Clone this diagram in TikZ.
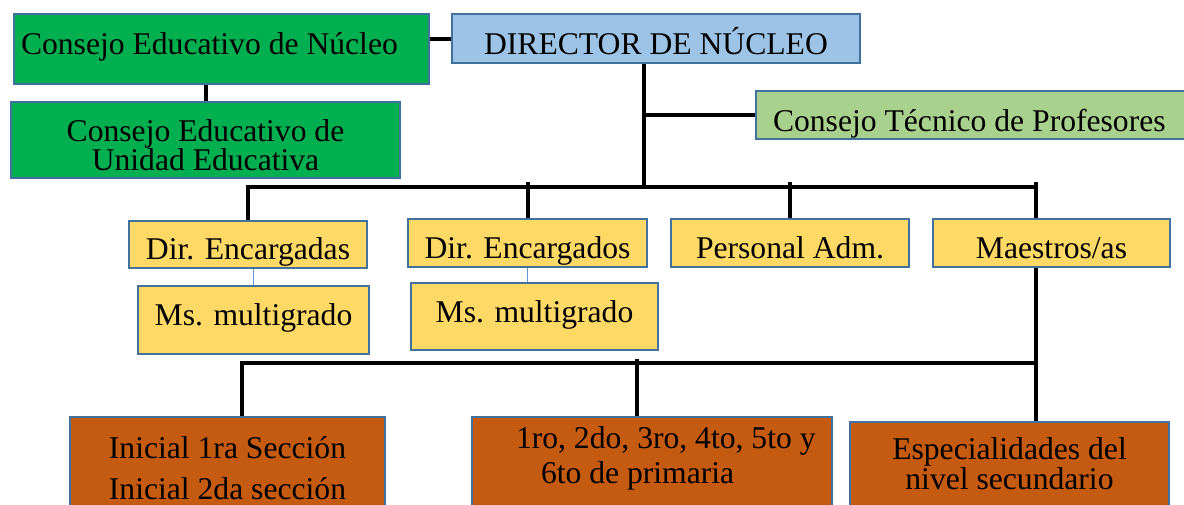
\documentclass[tikz,border=0pt]{standalone}
\usepackage{fontspec}
\setmainfont{Liberation Serif}
\usetikzlibrary{positioning,calc}

\definecolor{borde}{HTML}{41719C}
\definecolor{verde}{HTML}{00B050}
\definecolor{celeste}{HTML}{9DC3E6}
\definecolor{verdeclaro}{HTML}{A9D18E}
\definecolor{amarillo}{HTML}{FFD966}
\definecolor{naranja}{HTML}{C55A11}
\definecolor{azulito}{HTML}{5B9BD5}

\begin{document}
\begin{tikzpicture}[
    caja/.style={draw=borde, line width=0.5mm, inner sep=0pt, anchor=north west, text height=1cm, font=\fontsize{22.5}{20.6}\selectfont},
    linea/.style={line width=1mm},
    fino/.style={draw=azulito, line width=0.3mm}]

    \useasboundingbox (0,0) rectangle (29.6,-12.6);
    \clip (0,0) rectangle (29.6,-12.6);

    % fila de arriba
    \node[caja, fill=verde, text width=10.025cm, inner xsep=0.175cm, align=flush left, text depth=0.75cm] (CEN) at (0.325,-0.325) {Consejo Educativo de Núcleo};
    \node[caja, right=0.525cm of CEN.north east, anchor=north west, fill=celeste, minimum width=10.2cm, text depth=0.225cm] (DIR) {DIRECTOR DE NÚCLEO};
    \node[caja, below right=0.4cm and -0.075cm of CEN.south west, anchor=north west, fill=verde, minimum width=9.725cm, text height=1.7cm, text depth=0.2cm, align=center] (CEU) {Consejo Educativo de\\Unidad Educativa};
    \node[caja, below right=0.65cm and 7.6cm of DIR.south west, anchor=north west, fill=verdeclaro, text width=10.5cm, inner xsep=0.425cm, align=flush left, text depth=0.2cm] (CTP) {Consejo Técnico de Profesores};

    % fila amarilla
    \node[caja, fill=amarillo, minimum width=5.95cm, text height=0.95cm, text depth=0.225cm] (DEa) at (3.2,-5.5) {Dir. Encargadas};
    \node[caja, above right=0.05cm and 0.975cm of DEa.north east, anchor=north west, fill=amarillo, minimum width=5.975cm, text height=0.975cm, text depth=0.225cm] (DEo) {Dir. Encargados};
    \node[caja, right=0.55cm of DEo.north east, anchor=north west, fill=amarillo, minimum width=5.95cm, text height=0.975cm, text depth=0.225cm] (PA) {Personal Adm.};
    \node[caja, right=0.55cm of PA.north east, anchor=north west, fill=amarillo, minimum width=5.925cm, text height=0.975cm, text depth=0.225cm] (MA) {Maestros/as};
    \node[caja, below right=0.4cm and 0.225cm of DEa.south west, anchor=north west, fill=amarillo, minimum width=5.775cm, text height=0.975cm, text depth=0.725cm] (Ms1) {Ms. multigrado};
    \node[caja, below right=0.35cm and 0.075cm of DEo.south west, anchor=north west, fill=amarillo, minimum width=6.175cm, text height=0.975cm, text depth=0.7cm] (Ms2) {Ms. multigrado};

    % fila naranja
    \node[caja, fill=naranja, minimum width=7.875cm, text height=2.05cm, text depth=0.55cm, align=center, font=\fontsize{22.5}{28.5}\selectfont] (Ini) at (1.725,-10.4) {Inicial 1ra Sección\\Inicial 2da sección};
    \node[caja, right=2.125cm of Ini.north east, anchor=north west, fill=naranja, text width=9cm, text height=0.775cm, text depth=1.825cm, align=flush left, font=\fontsize{22.5}{24.9}\selectfont] (Prim) {\hspace*{1.1cm}1ro, 2do, 3ro, 4to, 5to y\\\hspace*{1.725cm}6to de primaria};
    \node[caja, below right=0.125cm and 0.4cm of Prim.north east, anchor=north west, fill=naranja, minimum width=7.975cm, text height=1.675cm, text depth=0.8cm, align=center, font=\fontsize{22.5}{21.3}\selectfont] (Esp) {Especialidades del\\nivel secundario};

    \coordinate (tronco) at (16.1,-4.675);
    \coordinate (esq) at (25.9,-4.675);
    \coordinate (izqB) at (6.05,-9.075);
    \coordinate (medB) at (15.925,-9.075);
    \coordinate (esqB) at (25.9,-9.075);

    \draw[linea] (DIR.west) -- (DIR.west -| CEN.east);
    \draw[linea] (CEU.north) -- (CEU.north |- CEN.south);
    \draw[linea] (tronco |- DIR.south) -- (tronco);
    \draw[linea] (tronco |- CTP.west) -- (CTP.west);

    % barra de arriba
    \draw[linea] (DEa.north) |- (esq);
    \draw[linea] ($(esq)+(0,0.125)$) -- (esq |- MA.north);
    \foreach \nn in {DEo,PA}{
        \draw[linea] (\nn.north) -- ($(\nn.north |- esq)+(0,0.125)$);
    }

    \draw[fino] (Ms1.north) -- (Ms1.north |- DEa.south);
    \draw[fino] (DEo.south) -- (DEo.south |- Ms2.north);

    % barra de abajo
    \draw[linea] (esqB |- MA.south) -- (esqB |- Esp.north);
    \draw[linea] (izqB |- Ini.north) |- (esqB);
    \draw[linea] ($(medB)+(0,0.1)$) -- (medB |- Prim.north);

\end{tikzpicture}
\end{document}
